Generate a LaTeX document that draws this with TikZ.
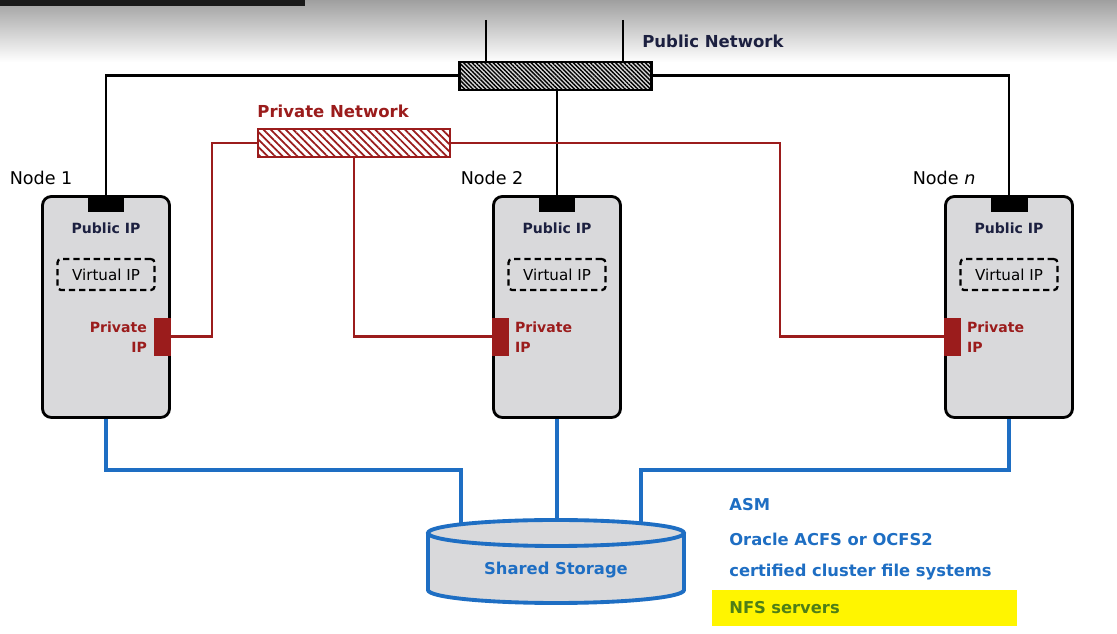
\documentclass[tikz,border=0pt]{standalone}
\usepackage{fontspec}
\setmainfont{DejaVu Sans}
\usetikzlibrary{patterns.meta,
                positioning}
\definecolor{navy}{HTML}{1C2040}
\definecolor{pred}{HTML}{9B1C1C}
\definecolor{sblue}{HTML}{1E6EC3}
\definecolor{boxgray}{HTML}{D9D9DB}
\definecolor{nfsgreen}{HTML}{4E7F17}
\definecolor{hl}{HTML}{FFF500}

\begin{document}
\begin{tikzpicture}[x=0.02cm, y=0.02cm,
node distance = 2mm,
   BOX/.style = {draw, line width=1.6pt, fill=boxgray, rounded corners=5pt,
                 minimum width=2.54cm, minimum height=4.42cm, inner sep=0pt},
   PIP/.style = {fill=black, minimum width=7.4mm, minimum height=3.4mm,
                 inner sep=0pt},% public IP port
   RIP/.style = {fill=pred, minimum width=3.4mm, minimum height=7.6mm,
                 inner sep=0pt},% private IP port
   VIP/.style = {draw, dash pattern=on 3.6pt off 2.2pt, line width=1.3pt,
                 rounded corners=2pt, minimum width=19.4mm, minimum height=6.2mm,
                 inner sep=0pt, font=\fontsize{8.6}{10}\selectfont},
    SW/.style = {draw, line width=1.3pt, minimum width=3.84cm,
                 minimum height=5.6mm, inner sep=0pt},
   TXT/.style = {font=\bfseries\fontsize{8}{11.3}\selectfont, inner sep=0pt},
   NET/.style = {font=\bfseries\fontsize{9.4}{11}\selectfont, inner sep=0pt},
   LBL/.style = {font=\fontsize{10}{12}\selectfont, inner sep=0pt},
   LST/.style = {font=\bfseries\fontsize{9.3}{11}\selectfont, text=sblue,
                 inner sep=0pt, anchor=west},
   PUB/.style = {line width=1.7pt},
   PRV/.style = {line width=1.7pt, pred},
   STO/.style = {line width=2.2pt, sblue}
                        ]
% screen strip on top
\fill[white] (0,0) rectangle (1117,-634);
\shade[top color=gray!75, bottom color=white] (0,0) rectangle (1117,-62);
\fill[black!90] (0,0) rectangle (305,-6);
\useasboundingbox (0,0) rectangle (1117,-634);
% cluster nodes
\foreach \n/\x/\t in {1/106/1, 2/557/2, n/1009/\textit{n}}
{
\node[BOX] (box\n) at (\x,-307) {};
\node[LBL, above=2mm of box\n.north west] (lbl\n) {Node \t};
\node[PIP, below=0pt of box\n.north] (pip\n) {};
\node[TXT, navy, below=1.9mm of pip\n] (ptx\n) {Public IP};
\node[VIP, below=4.8mm of ptx\n] (vip\n) {Virtual IP};
}
\node[RIP, anchor=east] (rip1) at ([yshift=-6mm]box1.east) {};
\node[RIP, anchor=west] (rip2) at ([yshift=-6mm]box2.west) {};
\node[RIP, anchor=west] (ripn) at ([yshift=-6mm]boxn.west) {};
\node[TXT, pred, align=right, left=1.2mm of rip1] (rtx1) {Private\\IP};
\node[TXT, pred, align=left, right=1mm of rip2] (rtx2) {Private\\IP};
\node[TXT, pred, align=left, right=1mm of ripn] (rtxn) {Private\\IP};
% switches
\node[SW, preaction={fill=gray!30}, pattern color=black,
      pattern={Lines[angle=-45, distance=1.7pt, line width=0.8pt]}]
      (pubsw) at (555.5,-76) {};
\node[SW, draw=pred, preaction={fill=white}, pattern color=pred,
      pattern={Lines[angle=-45, distance=3pt, line width=1pt]}]
      (prvsw) at (354,-143) {};
\node[NET, navy, anchor=west] (pubnet) at (642,-41) {Public Network};
\node[NET, pred, above right=2.1mm and 0pt of prvsw.north west] (prvnet) {Private Network};
% public network
\coordinate (ant1) at (486,-20);
\coordinate (ant2) at (623,-20);
\foreach \a in {ant1,ant2}
  \draw[PUB] (\a) -- (\a |- pubsw.north);
\draw[PUB] (pubsw) -| (pip1);
\draw[PUB] (pubsw) -| (pipn);
\draw[PUB] (pip2) -- (pip2 |- pubsw.south);
% private network
\coordinate (pl) at (212,-143);
\coordinate (pr) at (780,-143);
\draw[PRV] (prvsw) -- (pl) |- (rip1);
\draw[PRV] (prvsw) |- (rip2);
\draw[PRV] (prvsw) -- (pr) |- (ripn);
% storage
\coordinate (jl) at (461,-470);
\coordinate (jr) at (641,-470);
\coordinate (sl) at (461,-524);
\coordinate (sm) at (557,-520);
\coordinate (sr) at (641,-523);
\draw[STO] (box1) |- (jl) -- (sl);
\draw[STO] (boxn) |- (jr) -- (sr);
\draw[STO] (box2) -- (sm);
\filldraw[STO, fill=boxgray] (428,-533) -- (428,-590)
    arc[start angle=180, end angle=360, x radius=128, y radius=13] -- (684,-533);
\filldraw[STO, fill=boxgray] (556,-533) ellipse[x radius=128, y radius=13];
\node[LST, anchor=center] (store) at (556,-570) {Shared Storage};
% storage options
\node[LST] (asm) at (729,-505) {ASM};
\node[LST, below=6.8mm of asm.west, anchor=west] (acfs) {Oracle ACFS or OCFS2};
\node[LST, below=6.6mm of acfs.west, anchor=west] (cfs) {certified cluster file systems};
\node[LST, text=nfsgreen, fill=hl, inner xsep=3.4mm, text width=5.42cm,
      align=left, minimum height=7.2mm] (nfs) at (712,-608) {NFS servers};
\end{tikzpicture}
\end{document}
